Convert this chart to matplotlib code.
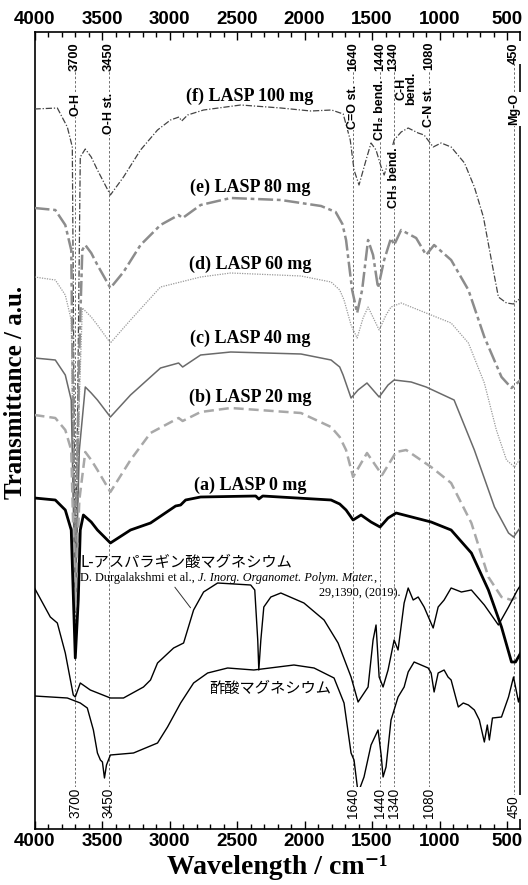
import matplotlib
matplotlib.use('Agg')
import matplotlib.pyplot as plt
from matplotlib.ticker import MultipleLocator

# ---------------- spectra (wavenumber / cm-1, transmittance a.u.) ----------------
wn_f = [4000, 3831, 3757, 3720, 3698, 3680, 3661, 3624, 3580, 3534, 3438, 3341, 3215, 3089, 2993,
        2930, 2910, 2866, 2748, 2473, 2176, 1953, 1800, 1714, 1662, 1634, 1597, 1545, 1508, 1471,
        1433, 1411, 1382, 1337, 1285, 1233, 1159, 1115, 1048, 989, 915, 816, 743, 676, 617, 565,
        505, 453, 400]
tr_f = [720, 721, 702, 682, 239, 430, 672, 680, 672, 659, 634, 652, 679, 699, 709,
        712, 708, 714, 719, 724, 721, 718, 719, 715, 689, 659, 644, 669, 686, 679,
        662, 654, 666, 689, 697, 701, 696, 694, 682, 686, 682, 666, 642, 612, 569, 532,
        526, 525, 531]

wn_e = [4000, 3846, 3772, 3728, 3698, 3668, 3646, 3624, 3580, 3534, 3438, 3341, 3215, 3067, 2933,
        2903, 2770, 2547, 2176, 1878, 1770, 1720, 1693, 1648, 1611, 1574, 1530, 1493, 1456, 1411,
        1360, 1337, 1285, 1174, 1100, 1041, 915, 787, 669, 542, 468, 400]
tr_e = [621, 619, 604, 579, 234, 479, 579, 584, 576, 564, 541, 557, 584, 604, 614,
        611, 624, 631, 629, 623, 617, 605, 589, 539, 516, 539, 589, 574, 541, 569,
        591, 584, 599, 591, 574, 584, 569, 539, 492, 452, 441, 449]

wn_d = [4000, 3846, 3772, 3728, 3698, 3668, 3646, 3580, 3534, 3438, 3289, 3067, 2770, 2547, 2027,
        1804, 1740, 1708, 1656, 1611, 1567, 1530, 1448, 1397, 1360, 1285, 1100, 915, 787, 669,
        580, 505, 446, 400]
tr_d = [552, 549, 534, 509, 229, 429, 521, 512, 504, 486, 509, 542, 552, 556, 553,
        547, 539, 529, 504, 491, 511, 522, 499, 514, 522, 526, 516, 506, 486, 446,
        399, 369, 362, 371]

wn_c = [4000, 3846, 3772, 3728, 3698, 3668, 3624, 3580, 3534, 3438, 3289, 3067, 2933, 2903, 2770,
        2547, 2027, 1804, 1740, 1715, 1656, 1604, 1538, 1448, 1382, 1337, 1211, 1100, 893, 743,
        594, 490, 453, 400]
tr_c = [471, 469, 454, 429, 224, 379, 442, 436, 429, 412, 434, 461, 466, 462, 474,
        477, 475, 469, 462, 454, 431, 439, 446, 432, 444, 449, 447, 442, 429, 379,
        322, 296, 292, 302]

wn_b = [4000, 3846, 3772, 3728, 3698, 3668, 3624, 3580, 3534, 3438, 3289, 3141, 2933, 2903, 2770,
        2547, 2027, 1804, 1740, 1693, 1641, 1538, 1426, 1322, 1248, 1063, 915, 765, 639, 542,
        468, 400]
tr_b = [414, 411, 399, 379, 219, 329, 377, 369, 359, 337, 369, 396, 411, 408, 417,
        421, 416, 402, 392, 379, 352, 376, 354, 377, 379, 362, 346, 306, 252, 232,
        229, 234]

wn_a = [4000, 3846, 3772, 3728, 3698, 3676, 3661, 3638, 3580, 3534, 3438, 3289, 3141, 2955, 2918,
        2881, 2770, 2362, 2339, 2310, 1804, 1740, 1693, 1641, 1582, 1508, 1441, 1382, 1322, 1063,
        915, 765, 639, 542, 468, 438, 400]
tr_a = [331, 329, 319, 299, 171, 229, 299, 314, 307, 299, 286, 299, 306, 323, 324,
        329, 332, 333, 330, 333, 329, 325, 319, 309, 314, 307, 302, 311, 316, 307,
        299, 276, 239, 202, 167, 167, 176]

# magnesium L-aspartate (literature)
wn_asp = [4000, 3883, 3831, 3772, 3713, 3698, 3661, 3587, 3438, 3341, 3193, 3141, 3089, 2970, 2896,
          2822, 2748, 2644, 2399, 2369, 2347, 2339, 2324, 2302, 2250, 2176, 2005, 1856, 1752, 1656,
          1604, 1530, 1493, 1471, 1448, 1419, 1382, 1337, 1308, 1263, 1233, 1196, 1159, 1115, 1048,
          1011, 967, 915, 839, 765, 669, 565, 490, 424, 400]
tr_asp = [241, 212, 206, 176, 134, 132, 146, 139, 131, 131, 142, 149, 166, 181, 186,
          219, 237, 246, 244, 239, 189, 159, 189, 222, 232, 236, 226, 209, 186, 152,
          127, 142, 189, 204, 152, 142, 159, 189, 179, 226, 241, 229, 232, 222, 201,
          222, 229, 241, 237, 239, 224, 204, 222, 239, 244]

# magnesium acetate
wn_ac = [4000, 3757, 3661, 3609, 3564, 3534, 3512, 3497, 3482, 3467, 3438, 3267, 3089, 3015, 2918,
         2822, 2718, 2570, 2376, 2079, 1930, 1782, 1708, 1656, 1634, 1604, 1560, 1508, 1456, 1433,
         1419, 1397, 1360, 1308, 1263, 1233, 1189, 1085, 1063, 1041, 1011, 967, 938, 915, 862,
         825, 787, 743, 706, 669, 647, 632, 609, 542, 490, 453, 416, 400]
tr_ac = [133, 131, 126, 121, 99, 76, 69, 67, 51, 64, 74, 76, 86, 102, 126,
         146, 156, 161, 159, 164, 161, 151, 126, 76, 69, 36, 52, 84, 99, 74,
         52, 62, 109, 132, 142, 157, 167, 161, 156, 137, 156, 159, 152, 149, 122,
         126, 124, 119, 109, 87, 104, 89, 111, 112, 132, 152, 127, 136]

# ---------------- band assignments ----------------
band_pos = [3700, 3450, 1640, 1440, 1340, 1080, 450]
band_num = ['3700', '3450', '1640', '1440', '1340', '1080', '450']
band_name = ['O-H', 'O-H st.', 'C=O st.', 'CH\u2082 bend.', 'CH\u2083 bend.', 'C-N st.', 'Mg-O']
band_name_top = [736, 736, 744, 749, 682, 742, 736]

sample_labels = ['(f) LASP 100 mg', '(e) LASP 80 mg', '(d) LASP 60 mg',
                 '(c) LASP 40 mg', '(b) LASP 20 mg', '(a) LASP 0 mg']
sample_label_y = [733, 642, 565, 491, 432, 344]

# ---------------- figure ----------------
fig = plt.figure(figsize=(5.28, 8.85), dpi=100)
ax = fig.add_axes([34.5 / 528, 1 - 829 / 885, 485.5 / 528, 797 / 885])

sans = ['Liberation Sans', 'DejaVu Sans']
serif = ['Liberation Serif', 'DejaVu Serif']
jp = ['Noto Sans CJK JP', 'DejaVu Sans']

# guide lines
ax.vlines(band_pos, 11, 787, colors='#6e6e6e', linestyles=(0, (2.5, 2)), linewidth=0.7, zorder=1)

ax.plot(wn_f, tr_f, color='#444444', lw=0.9, ls=(0, (5, 1.5, 1, 1.5)), zorder=3)
ax.plot(wn_e, tr_e, color='#8c8c8c', lw=1.8, ls=(0, (6, 1.5, 1.5, 1.5)), zorder=3)
ax.plot(wn_d, tr_d, color='#9a9a9a', lw=0.9, ls=(0, (1, 1)), zorder=3)
ax.plot(wn_c, tr_c, color='#6a6a6a', lw=1.1, ls='-', zorder=3)
ax.plot(wn_b, tr_b, color='#a8a8a8', lw=1.8, ls=(0, (4, 2)), zorder=3)
ax.plot(wn_a, tr_a, color='black', lw=2.0, ls='-', zorder=4)
ax.plot(wn_asp, tr_asp, color='black', lw=1.0, zorder=3)
ax.plot(wn_ac, tr_ac, color='black', lw=1.0, zorder=3)

for lab, y in zip(sample_labels, sample_label_y):
    ax.text(2405, y, lab, family=serif, weight='bold', fontsize=13, ha='center', va='center')

# band labels (top and bottom)
wbox = dict(fc='white', ec='none', pad=0.6)
for pos, num, name, ytop in zip(band_pos, band_num, band_name, band_name_top):
    ax.text(pos, 787, num, family=sans, weight='bold', fontsize=9.3, rotation=90,
            ha='center', va='top', bbox=wbox, zorder=5)
    ax.text(pos, ytop, name, family=sans, weight='bold', fontsize=9, rotation=90,
            ha='center', va='top', bbox=wbox, zorder=5)
    ax.text(pos, 11, num, family=sans, fontsize=9.8, rotation=90,
            ha='center', va='bottom', bbox=wbox, zorder=5)
ax.text(1245, 757, 'C-H\nbend.', family=sans, weight='bold', fontsize=9, rotation=90,
        ha='center', va='top', linespacing=0.8, zorder=5)

# compound labels
ax.text(3663, 267, 'L-アスパラギン酸マグネシウム', family=jp, fontsize=11, ha='left', va='center')
ref1 = ax.text(3663, 251, 'D. Durgalakshmi et al.,', family=serif, fontsize=8.8, ha='left', va='center')
ref2 = ax.annotate('J. Inorg. Organomet. Polym. Mater.', xy=(1, 0), xycoords=ref1,
                   xytext=(2.5, 0), textcoords='offset points', family=serif, style='italic',
                   fontsize=8.8, ha='left', va='bottom')
ax.annotate(',', xy=(1, 0), xycoords=ref2, family=serif, fontsize=8.8, ha='left', va='bottom')
ax.text(1290, 236, '29,1390, (2019).', family=serif, fontsize=8.8, ha='right', va='center')
ax.annotate('', xy=(2832, 219), xytext=(2973, 244),
            arrowprops=dict(arrowstyle='-', color='#333333', lw=0.7))
ax.text(2257, 141, '酢酸マグネシウム', family=jp, fontsize=11, ha='center', va='center')

# axes
ax.set_xlim(4000, 405)
ax.set_ylim(0, 797)
ax.set_yticks([])
ax.xaxis.set_major_locator(MultipleLocator(500))
ax.xaxis.set_minor_locator(MultipleLocator(100))
ax.tick_params(axis='x', which='both', direction='in', top=True, bottom=True,
               labeltop=True, labelbottom=True, width=1.0, pad=3)
ax.tick_params(axis='x', which='major', length=6)
ax.tick_params(axis='x', which='minor', length=3.5)
for lab in ax.get_xticklabels(which='both'):
    lab.set_family(sans)
    lab.set_weight('bold')
    lab.set_fontsize(13.5)
for sp in ax.spines.values():
    sp.set_linewidth(1.2)

fig.text(277 / 528, 1 - 868 / 885, 'Wavelength / cm\u207b\u00b9', family=serif, weight='bold',
         fontsize=20, ha='center', va='center')
fig.text(16 / 528, 1 - 392 / 885, 'Transmittance / a.u.', family=serif, weight='bold',
         fontsize=18, rotation=90, ha='center', va='center')

fig.savefig('out.png', dpi=100)
